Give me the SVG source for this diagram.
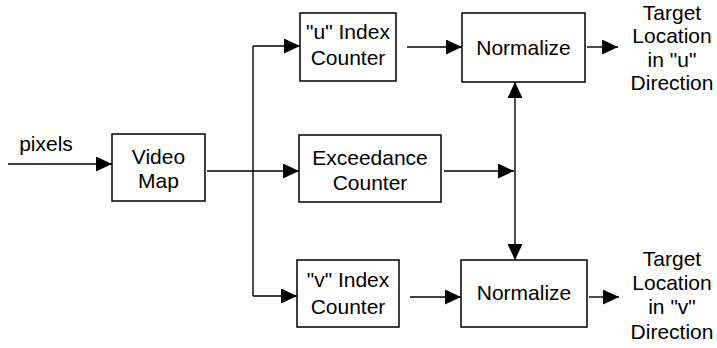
<svg xmlns="http://www.w3.org/2000/svg" width="717" height="348" viewBox="0 0 717 348">
<defs>
<marker id="arr" markerUnits="userSpaceOnUse" markerWidth="17" markerHeight="15" refX="16" refY="7.5" orient="auto">
<path d="M0,0 L16,7.5 L0,15 Z" fill="#000"/>
</marker>
</defs>
<style>
.box{fill:#fff;stroke:#000;stroke-width:1.5}
.ln{fill:none;stroke:#000;stroke-width:1.4}
text{font-family:"Liberation Sans",Arial,sans-serif;font-size:21px;fill:#000;text-anchor:middle}
</style>
<rect width="717" height="348" fill="#fff"/>
<g id="connectors">
<line class="ln" x1="8" y1="164" x2="112" y2="164" marker-end="url(#arr)"/>
<polyline class="ln" points="207,171 253,171"/>
<line class="ln" x1="253" y1="46" x2="253" y2="296"/>
<line class="ln" x1="253" y1="46" x2="300" y2="46" marker-end="url(#arr)"/>
<line class="ln" x1="253" y1="171" x2="299" y2="171" marker-end="url(#arr)"/>
<line class="ln" x1="253" y1="296" x2="297" y2="296" marker-end="url(#arr)"/>
<line class="ln" x1="407" y1="47" x2="462" y2="47" marker-end="url(#arr)"/>
<line class="ln" x1="444" y1="171" x2="514" y2="171" marker-end="url(#arr)"/>
<line class="ln" x1="410" y1="297" x2="461" y2="297" marker-end="url(#arr)"/>
<line class="ln" x1="515" y1="171" x2="515" y2="82" marker-end="url(#arr)"/>
<line class="ln" x1="515" y1="171" x2="515" y2="260" marker-end="url(#arr)"/>
<line class="ln" x1="587" y1="47" x2="618" y2="47" marker-end="url(#arr)"/>
<line class="ln" x1="589" y1="297" x2="619" y2="297" marker-end="url(#arr)"/>
</g>
<g id="pixels"><text x="46" y="151">pixels</text></g>
<g id="video-map">
<rect class="box" x="112" y="134" width="93" height="67"/>
<text x="158.5" y="164">Video</text>
<text x="158.5" y="188">Map</text>
</g>
<g id="u-index-counter">
<rect class="box" x="300" y="13" width="96" height="68"/>
<text x="348" y="39">"u" Index</text>
<text x="348" y="65">Counter</text>
</g>
<g id="exceedance-counter">
<rect class="box" x="299" y="135" width="142" height="67"/>
<text x="370" y="165">Exceedance</text>
<text x="370" y="190">Counter</text>
</g>
<g id="v-index-counter">
<rect class="box" x="297" y="260" width="102" height="67"/>
<text x="348" y="287">"v" Index</text>
<text x="348" y="314">Counter</text>
</g>
<g id="normalize-u">
<rect class="box" x="462" y="13" width="123" height="69"/>
<text x="523.5" y="55">Normalize</text>
</g>
<g id="normalize-v">
<rect class="box" x="461" y="260" width="126" height="67"/>
<text x="524" y="300">Normalize</text>
</g>
<g id="target-u">
<text x="672" y="20">Target</text>
<text x="672" y="43">Location</text>
<text x="672" y="67">in "u"</text>
<text x="672" y="90">Direction</text>
</g>
<g id="target-v">
<text x="672" y="266">Target</text>
<text x="672" y="290">Location</text>
<text x="672" y="314">in "v"</text>
<text x="672" y="339">Direction</text>
</g>
</svg>
